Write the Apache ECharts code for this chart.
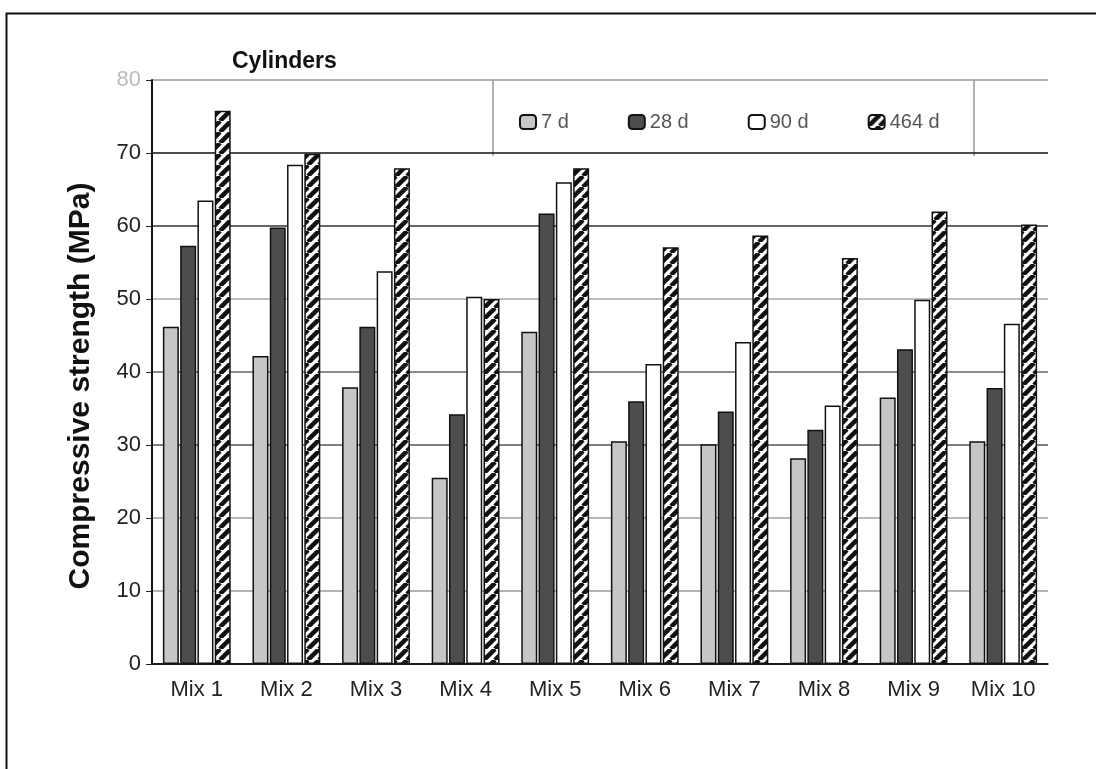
<!DOCTYPE html>
<html>
<head>
<meta charset="utf-8">
<script src="https://cdn.jsdelivr.net/npm/echarts@6/dist/echarts.min.js"></script>
<style>
  html, body { margin: 0; padding: 0; background: #fff; }
  #chart { width: 1096px; height: 769px; }
</style>
</head>
<body>
<div id="chart"></div>
<script>
const mixes = ['Mix 1', 'Mix 2', 'Mix 3', 'Mix 4', 'Mix 5', 'Mix 6', 'Mix 7', 'Mix 8', 'Mix 9', 'Mix 10']
const ages = ['7 d', '28 d', '90 d', '464 d']
const d7 = [46.2, 42.2, 37.9, 25.5, 45.5, 30.5, 30.1, 28.2, 36.5, 30.5]
const d28 = [57.3, 59.8, 46.2, 34.2, 61.7, 36.0, 34.6, 32.1, 43.1, 37.8]
const d90 = [63.5, 68.4, 53.8, 50.3, 66.0, 41.1, 44.1, 35.4, 49.9, 46.6]
const d464 = [75.8, 69.9, 67.9, 50.0, 67.9, 57.1, 58.7, 55.6, 62.0, 60.2]
const yTicks = [0, 10, 20, 30, 40, 50, 60, 70, 80]
const yTitle = 'Compressive strength (MPa)'

// diagonal hatch for the last series
const T = 11
const hatch = document.createElement('canvas')
hatch.width = T; hatch.height = T
const hc = hatch.getContext('2d')
hc.fillStyle = '#fff'
hc.fillRect(0, 0, T, T)
hc.strokeStyle = '#111'
hc.lineWidth = 4.5
for (const off of [-T, 0, T]) {
  hc.beginPath()
  hc.moveTo(off, T); hc.lineTo(off + T, 0)
  hc.stroke()
}

const fills = ['#c6c6c6', '#4d4d4d', '#ffffff', { image: hatch, repeat: 'repeat' }]
const values = [d7, d28, d90, d464]

const chart = echarts.init(document.getElementById('chart'))
chart.setOption({
  animation: false,
  textStyle: { fontFamily: 'Liberation Sans, Arial, sans-serif' },
  title: {
    text: 'Cylinders', left: 227, top: 45,
    textStyle: { fontSize: 23, fontWeight: 'bold', color: '#111' }
  },
  legend: {
    left: 514, top: 107, itemWidth: 16, itemHeight: 14, itemGap: 59,
    textStyle: { fontSize: 20, color: '#555' },
    data: ages
  },
  grid: { left: 152, right: 48, top: 80, bottom: 105 },
  xAxis: {
    type: 'category', data: mixes,
    axisLine: { lineStyle: { color: '#111', width: 1.5 } },
    axisTick: { length: 6, lineStyle: { color: '#333' } },
    axisLabel: { fontSize: 22, color: '#222', margin: 15 }
  },
  yAxis: {
    type: 'value', min: 0, max: 80, interval: 10,
    axisLine: { show: true, lineStyle: { color: '#111', width: 2 } },
    axisTick: { show: true, length: 6, lineStyle: { color: '#222' } },
    axisLabel: {
      fontSize: 22, margin: 11,
      color: (v) => (Number(v) === yTicks[yTicks.length - 1] ? '#bbb' : '#222')
    },
    splitLine: {
      lineStyle: {
        width: 1.5,
        color: ['#000', '#9a9a9a', '#a0a0a0', '#555', '#666', '#aaa', '#333', '#111', '#999']
      }
    }
  },
  graphic: [
    { type: 'rect', left: 4, top: 11, shape: { width: 1200, height: 900 },
      style: { fill: 'none', stroke: '#111', lineWidth: 2 }, silent: true },
    { type: 'line', shape: { x1: 493, y1: 80, x2: 493, y2: 156 },
      style: { stroke: '#666', lineWidth: 1 }, silent: true },
    { type: 'line', shape: { x1: 974, y1: 80, x2: 974, y2: 156 },
      style: { stroke: '#666', lineWidth: 1 }, silent: true },
    { type: 'text', x: 81, y: 386, rotation: Math.PI / 2, silent: true,
      style: { text: yTitle, fontSize: 30, fontWeight: 'bold', fill: '#111',
        fontFamily: 'Liberation Sans, Arial, sans-serif', align: 'center', verticalAlign: 'middle' } }
  ],
  series: ages.map((name, i) => ({
    name, type: 'bar', data: values[i],
    barWidth: 16, barGap: '8%',
    itemStyle: { color: fills[i], borderColor: '#111', borderWidth: 1.5 }
  }))
})
</script>
</body>
</html>
